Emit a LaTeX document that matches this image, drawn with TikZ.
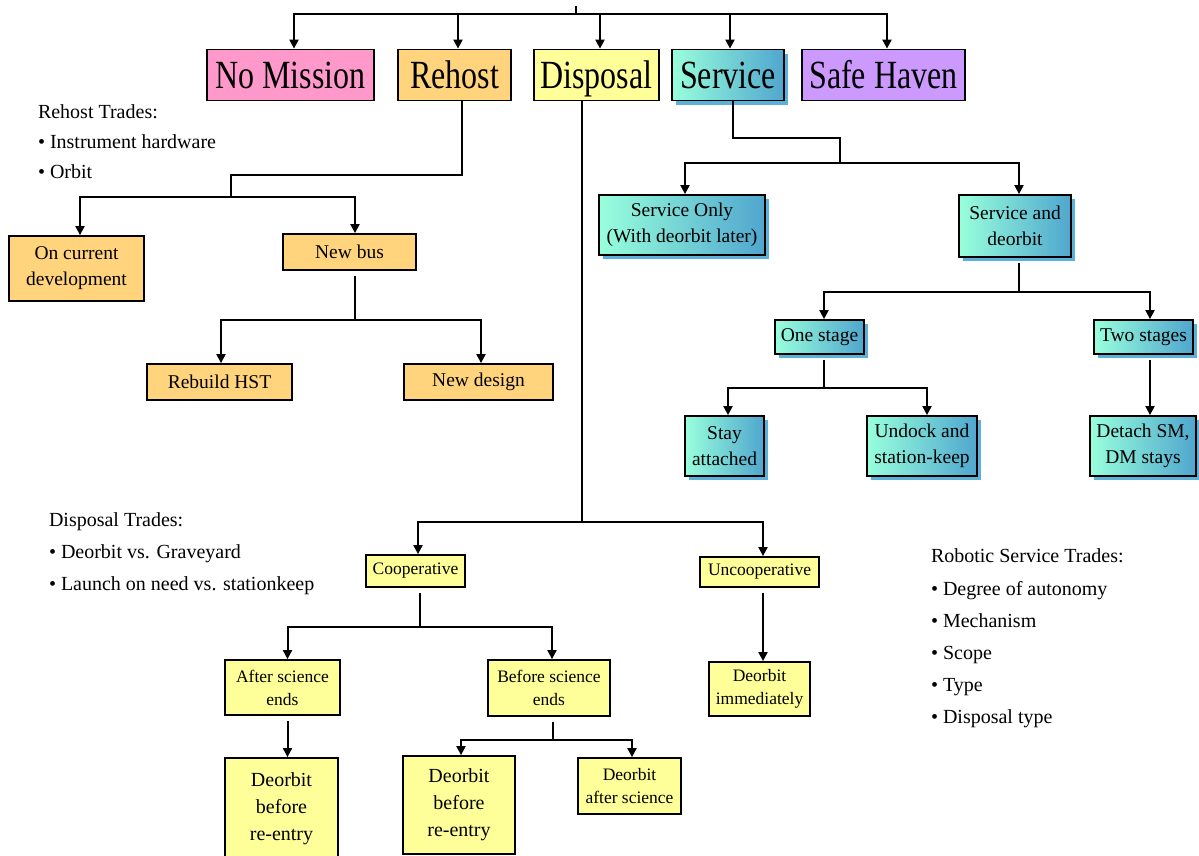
\documentclass[tikz,border=0pt]{standalone}
\usepackage{fontspec}
\setmainfont{Liberation Serif}
\newfontfamily\topfont[FakeStretch=0.8]{Liberation Serif}
\usetikzlibrary{arrows.meta,shadows}

\definecolor{nomisfill}{HTML}{FF99CC}
\definecolor{rehostfill}{HTML}{FFD47C}
\definecolor{dispfill}{HTML}{FFFF99}
\definecolor{havenfill}{HTML}{CC99FF}
\definecolor{svcL}{HTML}{98FFDC}
\definecolor{svcR}{HTML}{50A6CE}
\definecolor{svcS}{HTML}{5AB2DA}

\begin{document}
\begin{tikzpicture}[
  x=1pt, y=-1pt,
  >={Triangle[length=9pt,width=9pt]},
  line width=2pt,
  arr/.style={->},
  lowgap/.style={shorten <=5pt},
  box/.style={draw=black, line width=1.8pt, align=center, inner sep=1pt,
              font=\fontsize{19.5}{26}\selectfont},
  topbox/.style={box, minimum height=51pt, text height=28pt, text depth=2pt,
                 font=\topfont\fontsize{40}{44}\selectfont},
  rbox/.style={box, fill=rehostfill},
  ybox/.style={box, fill=dispfill},
  sbox/.style={box, left color=svcL, right color=svcR,
               general shadow={fill=svcS, shadow xshift=4pt, shadow yshift=-4pt}},
  small/.style={font=\fontsize{17.5}{23}\selectfont},
  tall/.style={font=\fontsize{20}{27}\selectfont},
  note/.style={anchor=north west, align=left, inner sep=0pt},
]
\path[use as bounding box, fill=white] (0,0) rectangle (1199,855);

% ---------------- top level ----------------
\node[topbox, fill=nomisfill, minimum width=167pt] (nomis) at (290.5,75) {No Mission};
\node[topbox, fill=rehostfill, minimum width=113pt] (rehost) at (454.5,75) {Rehost};
\node[topbox, fill=dispfill, minimum width=125pt] (disp) at (596.5,75) {Disposal};
\node[sbox, topbox, minimum width=112pt] (serv) at (728,75) {Service};
\node[topbox, fill=havenfill, minimum width=163pt] (haven) at (883.5,75) {Safe Haven};

\coordinate (root) at (576,6);
\coordinate (topj) at (576,14);
\draw (root) -- (topj);
\draw[arr] (topj) -| ([xshift=3.5]nomis.north);
\draw[arr] (topj) -| ([xshift=3.5]rehost.north);
\draw[arr] (topj) -| ([xshift=3.5]disp.north);
\draw[arr] (topj) -| ([xshift=2]serv.north);
\draw[arr] (topj) -| ([xshift=3.5]haven.north);

% ---------------- rehost branch ----------------
\node[rbox, minimum width=135pt, minimum height=65pt] (cur) at (76.5,268.5) {On current\\development};
\node[rbox, minimum width=133pt, minimum height=36pt] (newbus) at (349.5,252) {New bus};
\node[rbox, minimum width=145pt, minimum height=36pt] (rebuild) at (219.5,382) {Rebuild HST};
\node[rbox, minimum width=149pt, minimum height=36pt] (newdes) at (478.5,382) {New design};

\coordinate (rhj) at (231,197);
\draw ([xshift=7.5]rehost.south) -- ++(0,74) -| (rhj);
\draw[arr] (rhj) -| ([xshift=3.5]cur.north);
\draw[arr] (rhj) -| ([xshift=5.5]newbus.north);
\coordinate (nbj) at (355,320);
\draw[lowgap] ([xshift=5.5]newbus.south) -- (nbj);
\draw[arr] (nbj) -| ([xshift=1.5]rebuild.north);
\draw[arr] (nbj) -| ([xshift=2.5]newdes.north);

% ---------------- service branch ----------------
\node[sbox, minimum width=166pt, minimum height=60pt] (sonly) at (682,225) {Service Only\\(With deorbit later)};
\node[sbox, minimum width=112pt, minimum height=62pt] (sdeo) at (1015,226) {Service and\\deorbit};
\node[sbox, minimum width=89pt, minimum height=34pt] (one) at (819.5,337) {One stage};
\node[sbox, minimum width=99pt, minimum height=34pt] (two) at (1143.5,337) {Two stages};
\node[sbox, minimum width=79pt, minimum height=60pt] (stay) at (724.5,446) {Stay\\attached};
\node[sbox, minimum width=110pt, minimum height=60pt] (undock) at (922,446) {Undock and\\station-keep};
\node[sbox, minimum width=106pt, minimum height=60pt] (detach) at (1143,446) {Detach SM,\\DM stays};

\coordinate (sj) at (840,163);
\draw ([xshift=5]serv.south) -- ++(0,37) -| (sj);
\draw[arr] (sj) -| ([xshift=3]sonly.north);
\draw[arr] (sj) -| ([xshift=4]sdeo.north);
\coordinate (sdj) at (1019,292);
\draw[lowgap] ([xshift=4]sdeo.south) -- (sdj);
\draw[arr] (sdj) -| ([xshift=4.5]one.north);
\draw[arr] (sdj) -| ([xshift=6.5]two.north);
\coordinate (oj) at (824,388);
\draw[lowgap] ([xshift=4.5]one.south) -- (oj);
\draw[arr] (oj) -| ([xshift=3.5]stay.north);
\draw[arr] (oj) -| ([xshift=5]undock.north);
\draw[arr, lowgap] ([xshift=6.5]two.south) -- ([xshift=7]detach.north);

% ---------------- disposal branch ----------------
\node[ybox, small, minimum width=99pt, minimum height=32pt] (coop) at (415.5,571) {Cooperative};
\node[ybox, small, minimum width=119pt, minimum height=30pt] (uncoop) at (759.5,572) {Uncooperative};
\node[ybox, small, minimum width=115pt, minimum height=55pt] (after) at (282.5,687.5) {After science\\ends};
\node[ybox, small, minimum width=122pt, minimum height=56pt] (before) at (549,688) {Before science\\ends};
\node[ybox, small, minimum width=101pt, minimum height=54pt] (imm) at (759.5,689) {Deorbit\\immediately};
\node[ybox, tall, minimum width=113pt, minimum height=101pt] (dbr1) at (281.5,808.5) {Deorbit\\before\\re-entry};
\node[ybox, tall, minimum width=112pt, minimum height=98pt] (dbr2) at (459,805) {Deorbit\\before\\re-entry};
\node[ybox, small, minimum width=103pt, minimum height=56pt] (das) at (629.5,786) {Deorbit\\after science};

\coordinate (dj) at (582,522);
\draw ([xshift=-14.5]disp.south) -- (dj);
\draw[arr] (dj) -| ([xshift=2.5]coop.north);
\draw[arr] (dj) -| ([xshift=3.5]uncoop.north);
\coordinate (cj) at (420,627);
\draw[lowgap] ([xshift=4.5]coop.south) -- (cj);
\draw[arr] (cj) -| ([xshift=5]after.north);
\draw[arr] (cj) -| ([xshift=3]before.north);
\draw[arr, lowgap] ([xshift=3.5]uncoop.south) -- ([xshift=3.5]imm.north);
\draw[arr, lowgap] ([xshift=5]after.south) -- ([xshift=6]dbr1.north);
\coordinate (bj) at (553,740);
\draw[lowgap] ([xshift=4]before.south) -- (bj);
\draw[arr] (bj) -| ([xshift=2]dbr2.north);
\draw[arr] (bj) -| ([xshift=2.5]das.north);

% ---------------- trade notes ----------------
\node[note, font=\fontsize{20}{30}\selectfont] (rtrades) at (37,104)
  {Rehost Trades:\\• Instrument hardware\\• Orbit};
\node[note, font=\fontsize{20}{32}\selectfont] (dtrades) at (48,512)
  {Disposal Trades:\\• Deorbit vs. Graveyard\\• Launch on need vs. stationkeep};
\node[note, font=\fontsize{20}{32.2}\selectfont] (strades) at (930,548)
  {Robotic Service Trades:\\• Degree of autonomy\\• Mechanism\\• Scope\\• Type\\• Disposal type};
\end{tikzpicture}
\end{document}
